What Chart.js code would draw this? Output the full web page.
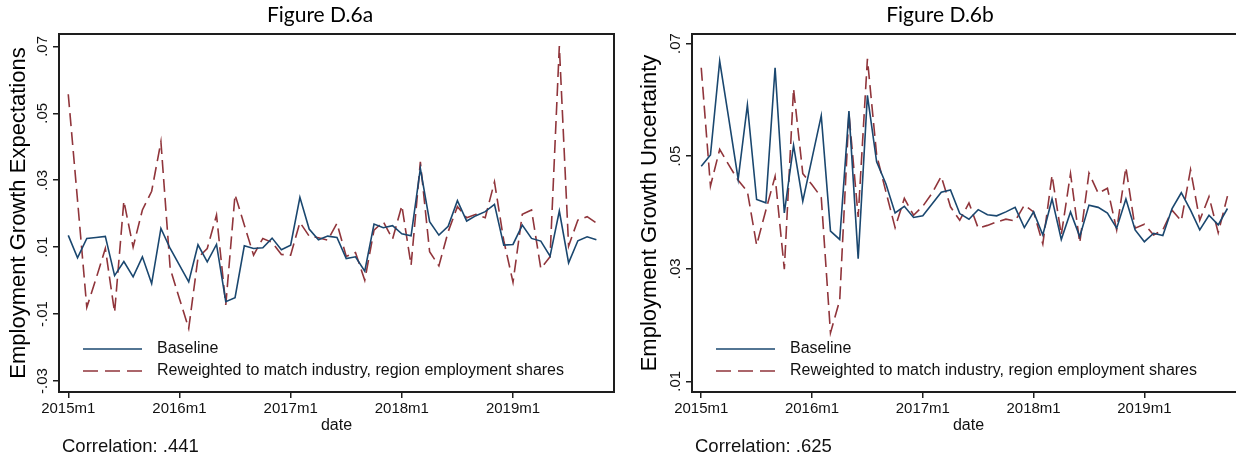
<!DOCTYPE html>
<html>
<head>
<meta charset="utf-8">
<script src="https://cdn.jsdelivr.net/npm/chart.js@4.4.1/dist/chart.umd.min.js"></script>
<style>
  html, body { margin: 0; padding: 0; background: #fff; }
  body { width: 1236px; height: 457px; overflow: hidden; position: relative; }
  canvas { position: absolute; top: 0; }
  #ca { left: 0; }
  #cb { left: 620px; }
</style>
</head>
<body>
<canvas id="ca" width="620" height="457"></canvas>
<canvas id="cb" width="640" height="457"></canvas>
<script>
// ---------- DATA ----------
const months = [
  "2015m1","2015m2","2015m3","2015m4","2015m5","2015m6","2015m7","2015m8","2015m9","2015m10","2015m11","2015m12",
  "2016m1","2016m2","2016m3","2016m4","2016m5","2016m6","2016m7","2016m8","2016m9","2016m10","2016m11","2016m12",
  "2017m1","2017m2","2017m3","2017m4","2017m5","2017m6","2017m7","2017m8","2017m9","2017m10","2017m11","2017m12",
  "2018m1","2018m2","2018m3","2018m4","2018m5","2018m6","2018m7","2018m8","2018m9","2018m10","2018m11","2018m12",
  "2019m1","2019m2","2019m3","2019m4","2019m5","2019m6","2019m7","2019m8","2019m9","2019m10"
];
const xTickMonths = ["2015m1","2016m1","2017m1","2018m1","2019m1"];

// Figure D.6a : Employment Growth Expectations
const expBaseline = [
  0.0135, 0.0068, 0.0126, 0.0129, 0.0132, 0.0015, 0.0057, 0.0011, 0.0071, -0.0009, 0.0156, 0.0096,
  0.0046, -0.0004, 0.0107, 0.0056, 0.0108, -0.0063, -0.0051, 0.0104, 0.0096, 0.0098, 0.0127, 0.0092,
  0.0106, 0.0249, 0.0154, 0.0122, 0.0133, 0.0129, 0.0066, 0.0071, 0.0028, 0.0169, 0.0158, 0.0164,
  0.0140, 0.0134, 0.0335, 0.0176, 0.0136, 0.0162, 0.0239, 0.0178, 0.0194, 0.0206, 0.0228, 0.0106,
  0.0108, 0.0166, 0.0126, 0.0118, 0.0073, 0.0208, 0.0053, 0.0119, 0.0131, 0.0122
];
const expReweighted = [
  0.0557, 0.0240, -0.0080, 0.0006, 0.0096, -0.0095, 0.0238, 0.0100, 0.0211, 0.0267, 0.0415, 0.0036,
  -0.0054, -0.0143, 0.0068, 0.0096, 0.0196, -0.0073, 0.0257, 0.0166, 0.0076, 0.0126, 0.0114, 0.0078,
  0.0076, 0.0174, 0.0133, 0.0128, 0.0121, 0.0171, 0.0072, 0.0084, 0.0001, 0.0151, 0.0176, 0.0124,
  0.0224, 0.0046, 0.0355, 0.0086, 0.0044, 0.0146, 0.0221, 0.0188, 0.0198, 0.0188, 0.0295, 0.0120,
  -0.0005, 0.0198, 0.0211, 0.0036, 0.0071, 0.0701, 0.0103, 0.0181, 0.0191, 0.0172
];
const expTicks = [-0.03, -0.01, 0.01, 0.03, 0.05, 0.07];

// Figure D.6b : Employment Growth Uncertainty
const uncBaseline = [
  0.0482, 0.0502, 0.0669, 0.0565, 0.0459, 0.0591, 0.0423, 0.0417, 0.0657, 0.0399, 0.0519, 0.0420,
  0.0496, 0.0572, 0.0367, 0.0352, 0.0580, 0.0318, 0.0608, 0.0490, 0.0451, 0.0399, 0.0411, 0.0391,
  0.0394, 0.0415, 0.0436, 0.0440, 0.0398, 0.0388, 0.0405, 0.0396, 0.0394, 0.0401, 0.0409, 0.0373,
  0.0401, 0.0360, 0.0424, 0.0352, 0.0401, 0.0357, 0.0413, 0.0409, 0.0399, 0.0372, 0.0424, 0.0369,
  0.0348, 0.0363, 0.0359, 0.0407, 0.0435, 0.0404, 0.0369, 0.0395, 0.0378, 0.0407
];
const uncReweighted = [
  0.0657, 0.0447, 0.0512, 0.0484, 0.0457, 0.0437, 0.0342, 0.0404, 0.0464, 0.0299, 0.0620, 0.0469,
  0.0449, 0.0427, 0.0186, 0.0244, 0.0576, 0.0392, 0.0673, 0.0502, 0.0437, 0.0373, 0.0425, 0.0395,
  0.0411, 0.0434, 0.0464, 0.0410, 0.0386, 0.0417, 0.0372, 0.0377, 0.0383, 0.0388, 0.0385, 0.0413,
  0.0401, 0.0344, 0.0466, 0.0360, 0.0469, 0.0346, 0.0470, 0.0434, 0.0443, 0.0369, 0.0480, 0.0372,
  0.0379, 0.0360, 0.0369, 0.0404, 0.0385, 0.0476, 0.0386, 0.0428, 0.0364, 0.0429
];
const uncTicks = [0.01, 0.03, 0.05, 0.07];

const seriesNames = ["Baseline", "Reweighted to match industry, region employment shares"];

// ---------- STYLE ----------
const NAVY = "#1a476f";
const MAROON = "#90353b";
const FRAME = "#1e1e1e";
const SANS = "'Liberation Sans', Arial, Helvetica, sans-serif";
const DASH = [13, 6];

function stataFmt(v) {
  let s = Math.abs(v).toFixed(2).replace(/^0\./, ".");
  return (v < 0 ? "-" : "") + s;
}

const decorPlugin = {
  id: "decor",
  afterDraw(chart, args, opts) {
    const ctx = chart.ctx;
    const ca = chart.chartArea;
    ctx.save();
    // frame
    ctx.strokeStyle = FRAME;
    ctx.lineWidth = 2;
    ctx.strokeRect(ca.left, ca.top, ca.right - ca.left, ca.bottom - ca.top);
    // rotated y tick labels
    const ys = chart.scales.y;
    ctx.fillStyle = "#111";
    ctx.font = "15px " + SANS;
    ctx.textAlign = "center";
    ctx.textBaseline = "middle";
    ys.ticks.forEach(t => {
      const py = ys.getPixelForValue(t.value);
      ctx.save();
      ctx.translate(ca.left - 16, py);
      ctx.rotate(-Math.PI / 2);
      ctx.fillText(stataFmt(t.value), 0, 0);
      ctx.restore();
    });
    // title
    ctx.fillStyle = "#000";
    ctx.font = "21px Lato, 'Open Sans', sans-serif";
    ctx.textAlign = "center";
    ctx.fillText(opts.title, 320, 15);
    // legend
    const lx0 = ca.left + 24, lx1 = ca.left + 83, tx = ca.left + 98;
    const rows = [349, 371];
    ctx.lineWidth = 1.5;
    ctx.strokeStyle = NAVY;
    ctx.setLineDash([]);
    ctx.beginPath(); ctx.moveTo(lx0, rows[0]); ctx.lineTo(lx1, rows[0]); ctx.stroke();
    ctx.strokeStyle = MAROON;
    ctx.setLineDash([15, 7]);
    ctx.beginPath(); ctx.moveTo(lx0, rows[1]); ctx.lineTo(lx1, rows[1]); ctx.stroke();
    ctx.setLineDash([]);
    ctx.fillStyle = "#111";
    ctx.font = "16px " + SANS;
    ctx.textAlign = "left";
    ctx.fillText(chart.data.datasets[0].label, tx, rows[0]);
    ctx.fillText(chart.data.datasets[1].label, tx, rows[1]);
    // correlation note
    ctx.font = "18.5px " + SANS;
    ctx.fillText(opts.note, ca.left + 3, 447);
    ctx.restore();
  }
};

function buildChart(id, base, rew, yTicks, yMin, yMax, yTitle, axisWidth, padRight, titlePad, title, note) {
  const toPts = arr => arr.map((v, i) => ({ x: months.indexOf(months[i]), y: v }));
  return new Chart(document.getElementById(id), {
    type: "line",
    data: {
      datasets: [
        { label: seriesNames[0], data: toPts(base), borderColor: NAVY, borderWidth: 1.6,
          pointRadius: 0, tension: 0, fill: false },
        { label: seriesNames[1], data: toPts(rew), borderColor: MAROON, borderWidth: 1.6,
          borderDash: DASH, pointRadius: 0, tension: 0, fill: false }
      ]
    },
    options: {
      responsive: false,
      animation: false,
      events: [],
      layout: { padding: { top: 34, right: padRight, left: 0, bottom: 0 } },
      plugins: {
        legend: { display: false },
        tooltip: { enabled: false },
        decor: { title: title, note: note }
      },
      scales: {
        x: {
          type: "linear",
          min: -1,
          max: 58.9,
          afterBuildTicks: s => { s.ticks = xTickMonths.map(m => ({ value: months.indexOf(m) })); },
          afterFit: s => { s.height = 65; },
          ticks: {
            callback: v => months[v],
            color: "#111",
            font: { size: 15, family: SANS },
            padding: 2,
            maxRotation: 0, minRotation: 0, autoSkip: false
          },
          grid: { drawOnChartArea: false, tickLength: 6, color: FRAME, lineWidth: 1.5 },
          border: { display: false },
          title: { display: true, text: "date", color: "#111",
                   font: { size: 16, family: SANS }, padding: { top: 0, bottom: 22 } }
        },
        y: {
          type: "linear",
          min: yMin,
          max: yMax,
          afterBuildTicks: s => { s.ticks = yTicks.map(v => ({ value: v })); },
          afterFit: s => { s.width = axisWidth; },
          ticks: { color: "rgba(0,0,0,0)", font: { size: 15, family: SANS } },
          grid: { drawOnChartArea: false, tickLength: 6, color: FRAME, lineWidth: 1.5 },
          border: { display: false },
          title: { display: true, text: yTitle, color: "#000",
                   font: { size: 22, family: SANS }, padding: { top: titlePad, bottom: 0 } }
        }
      }
    },
    plugins: [decorPlugin]
  });
}

buildChart("ca", expBaseline, expReweighted, expTicks, -0.0333, 0.0737,
           "Employment Growth Expectations", 59, 6, 6, "Figure D.6a", "Correlation: .441");
buildChart("cb", uncBaseline, uncReweighted, uncTicks, 0.0081, 0.0717,
           "Employment Growth Uncertainty", 72, 15, 17, "Figure D.6b", "Correlation: .625");
</script>
</body>
</html>
